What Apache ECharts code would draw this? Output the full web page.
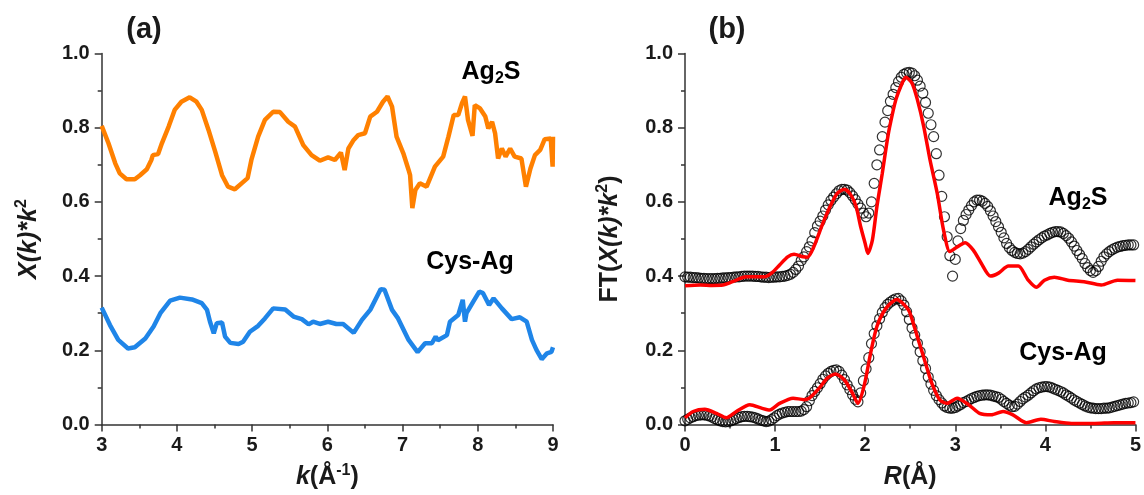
<!DOCTYPE html>
<html><head><meta charset="utf-8">
<script src="https://cdn.jsdelivr.net/npm/echarts@6/dist/echarts.min.js"></script>
<style>html,body{margin:0;padding:0;background:#fff}#c{width:1144px;height:495px}</style>
</head><body><div id="c"></div>
<script>
// ---------- Panel (a): chi(k)*k^2 ----------
const kAg2S = [3.00,3.09,3.18,3.24,3.33,3.44,3.51,3.60,3.66,3.68,3.75,3.80,3.89,3.97,4.06,4.17,4.26,4.33,4.42,4.51,4.60,4.68,4.77,4.86,4.94,4.99,5.08,5.17,5.28,5.37,5.48,5.57,5.68,5.79,5.90,6.01,6.10,6.18,6.23,6.28,6.35,6.41,6.50,6.57,6.66,6.74,6.80,6.86,6.92,7.01,7.08,7.10,7.13,7.17,7.23,7.32,7.43,7.54,7.61,7.68,7.74,7.79,7.83,7.87,7.93,7.96,8.03,8.10,8.14,8.19,8.23,8.27,8.32,8.37,8.43,8.49,8.58,8.64,8.70,8.76,8.83,8.89,8.97,8.995,9.00];
const chiAg2S = [0.805,0.758,0.704,0.677,0.661,0.661,0.672,0.688,0.713,0.726,0.729,0.758,0.803,0.848,0.870,0.882,0.870,0.848,0.794,0.735,0.672,0.641,0.634,0.650,0.664,0.713,0.776,0.821,0.843,0.842,0.816,0.803,0.753,0.726,0.711,0.720,0.713,0.733,0.686,0.744,0.767,0.780,0.785,0.830,0.843,0.870,0.884,0.857,0.776,0.731,0.686,0.672,0.583,0.632,0.650,0.641,0.695,0.722,0.776,0.834,0.834,0.866,0.884,0.821,0.778,0.861,0.852,0.830,0.798,0.816,0.785,0.717,0.744,0.722,0.744,0.722,0.717,0.641,0.690,0.726,0.740,0.769,0.771,0.695,0.776];
const kCys = [3.00,3.11,3.22,3.35,3.44,3.58,3.69,3.78,3.91,4.04,4.20,4.33,4.40,4.44,4.49,4.53,4.60,4.64,4.71,4.82,4.88,4.97,5.08,5.17,5.28,5.44,5.55,5.66,5.75,5.81,5.90,6.01,6.12,6.21,6.35,6.46,6.57,6.66,6.71,6.76,6.86,6.94,7.08,7.20,7.30,7.39,7.44,7.47,7.59,7.63,7.74,7.80,7.83,7.85,7.94,8.02,8.07,8.15,8.21,8.32,8.45,8.56,8.65,8.72,8.78,8.85,8.92,8.98,9.00];
const chiCys = [0.315,0.268,0.228,0.205,0.208,0.232,0.264,0.300,0.334,0.342,0.337,0.327,0.309,0.277,0.246,0.273,0.275,0.237,0.220,0.217,0.223,0.250,0.266,0.286,0.313,0.310,0.291,0.284,0.270,0.277,0.271,0.277,0.271,0.271,0.247,0.282,0.309,0.345,0.365,0.363,0.309,0.286,0.228,0.195,0.219,0.219,0.237,0.227,0.241,0.277,0.295,0.336,0.277,0.300,0.331,0.358,0.354,0.322,0.340,0.313,0.284,0.289,0.277,0.228,0.201,0.176,0.192,0.196,0.208];

// ---------- Panel (b): FT magnitude ----------
const R_STEP = 0.03; // sampling step of the experimental FT (circles)
const ftAg2S = [0.398,0.397,0.397,0.396,0.396,0.395,0.394,0.394,0.393,0.393,0.393,0.393,0.394,0.394,0.395,0.395,0.396,0.396,0.397,0.398,0.398,0.399,0.400,0.400,0.400,0.400,0.399,0.399,0.398,0.397,0.397,0.396,0.397,0.397,0.398,0.398,0.399,0.400,0.402,0.405,0.410,0.418,0.427,0.442,0.452,0.466,0.479,0.495,0.517,0.535,0.548,0.562,0.578,0.592,0.604,0.613,0.622,0.630,0.634,0.634,0.632,0.625,0.616,0.606,0.594,0.583,0.570,0.560,0.570,0.600,0.650,0.700,0.740,0.776,0.815,0.846,0.871,0.890,0.908,0.924,0.936,0.944,0.948,0.949,0.947,0.940,0.928,0.912,0.893,0.868,0.839,0.808,0.776,0.730,0.672,0.615,0.560,0.506,0.455,0.400,0.445,0.495,0.528,0.550,0.566,0.578,0.590,0.600,0.605,0.605,0.602,0.596,0.588,0.576,0.562,0.547,0.533,0.518,0.503,0.488,0.477,0.469,0.464,0.461,0.460,0.462,0.466,0.472,0.479,0.486,0.492,0.498,0.503,0.508,0.511,0.515,0.518,0.520,0.520,0.519,0.515,0.509,0.502,0.492,0.481,0.469,0.458,0.447,0.434,0.423,0.415,0.410,0.415,0.426,0.440,0.452,0.460,0.466,0.471,0.475,0.478,0.480,0.482,0.483,0.484,0.484,0.484];
const ftCys = [0.010,0.014,0.018,0.021,0.024,0.025,0.026,0.026,0.025,0.023,0.020,0.016,0.013,0.010,0.008,0.007,0.008,0.010,0.013,0.016,0.019,0.021,0.022,0.022,0.021,0.020,0.018,0.015,0.012,0.010,0.008,0.009,0.013,0.018,0.024,0.028,0.031,0.033,0.035,0.035,0.035,0.035,0.035,0.036,0.040,0.048,0.064,0.078,0.089,0.099,0.110,0.122,0.131,0.138,0.143,0.146,0.147,0.143,0.133,0.121,0.107,0.094,0.080,0.068,0.061,0.085,0.118,0.150,0.180,0.218,0.245,0.266,0.285,0.302,0.315,0.324,0.330,0.335,0.339,0.340,0.333,0.322,0.304,0.283,0.260,0.241,0.219,0.196,0.172,0.151,0.128,0.109,0.092,0.078,0.067,0.058,0.050,0.046,0.044,0.044,0.046,0.050,0.054,0.059,0.062,0.066,0.070,0.073,0.076,0.078,0.079,0.080,0.080,0.079,0.077,0.075,0.073,0.068,0.062,0.057,0.052,0.048,0.049,0.055,0.062,0.069,0.074,0.079,0.085,0.091,0.096,0.099,0.101,0.102,0.102,0.101,0.098,0.095,0.092,0.089,0.085,0.080,0.076,0.071,0.066,0.062,0.058,0.054,0.050,0.047,0.045,0.044,0.043,0.043,0.043,0.044,0.044,0.045,0.047,0.049,0.051,0.053,0.055,0.057,0.058,0.059,0.061];

const rFitAg2S = [0,0.17,0.30,0.42,0.53,0.68,0.88,0.96,1.05,1.14,1.21,1.31,1.36,1.43,1.53,1.62,1.69,1.77,1.84,1.90,1.95,2.00,2.03,2.08,2.13,2.19,2.24,2.27,2.34,2.41,2.45,2.52,2.58,2.65,2.72,2.80,2.87,2.94,3.00,3.11,3.20,3.29,3.39,3.48,3.59,3.70,3.81,3.90,3.99,4.10,4.25,4.43,4.62,4.80,5.00];
const fitAg2S = [0.374,0.376,0.375,0.376,0.385,0.398,0.398,0.408,0.430,0.452,0.459,0.452,0.451,0.479,0.542,0.592,0.623,0.634,0.619,0.587,0.533,0.488,0.461,0.497,0.587,0.677,0.758,0.800,0.875,0.920,0.936,0.920,0.875,0.803,0.713,0.623,0.524,0.466,0.475,0.490,0.470,0.434,0.400,0.408,0.427,0.427,0.389,0.370,0.389,0.397,0.389,0.385,0.376,0.389,0.388];
const rFitCys = [0,0.09,0.22,0.35,0.46,0.57,0.72,0.85,0.94,1.05,1.20,1.32,1.38,1.49,1.58,1.67,1.77,1.86,1.92,1.99,2.06,2.13,2.23,2.35,2.48,2.55,2.59,2.67,2.74,2.83,2.91,3.02,3.15,3.27,3.40,3.53,3.64,3.79,3.95,4.10,4.29,4.55,4.76,5.00];
const fitCys = [0.018,0.035,0.041,0.030,0.018,0.035,0.053,0.044,0.039,0.057,0.071,0.067,0.071,0.098,0.125,0.136,0.120,0.084,0.057,0.106,0.192,0.264,0.313,0.337,0.309,0.260,0.228,0.165,0.111,0.066,0.057,0.071,0.053,0.030,0.026,0.035,0.026,0.005,0.014,0.008,0.003,0.003,0.005,0.005];

const pairs = (xs, ys) => ys.map((v, i) => [xs[i], v]);
const gridPairs = (ys) => ys.map((v, i) => [+(i * R_STEP).toFixed(3), v]);

const FONT = 'Arial, "Liberation Sans", sans-serif';
const TXT = '#1a1a1a';
const rich = {
  n: { fontSize: 25, fontWeight: 'bold', fontFamily: FONT, color: TXT, lineHeight: 30 },
  i: { fontSize: 25, fontWeight: 'bold', fontStyle: 'italic', fontFamily: FONT, color: TXT, lineHeight: 30 },
  sup: { fontSize: 16, fontWeight: 'bold', fontFamily: FONT, color: TXT, lineHeight: 16, verticalAlign: 'top' },
  sub: { fontSize: 16, fontWeight: 'bold', fontFamily: FONT, color: TXT, lineHeight: 16, verticalAlign: 'bottom' }
};
function xAx(idx, min, max, name) {
  return {
    gridIndex: idx, type: 'value', min: min, max: max, interval: 1,
    name: name, nameLocation: 'middle', nameGap: 38,
    nameTextStyle: { rich: rich },
    axisLine: { onZero: false, lineStyle: { color: '#333', width: 1.5 } },
    axisTick: { inside: false, length: 7, lineStyle: { color: '#333', width: 1.5 } },
    minorTick: { show: true, splitNumber: 2, length: 4, lineStyle: { color: '#333', width: 1.5 } },
    splitLine: { show: false },
    axisLabel: { color: TXT, fontSize: 20, fontWeight: 'bold', fontFamily: FONT, margin: 11 }
  };
}
function yAx(idx, name, gap) {
  return {
    gridIndex: idx, type: 'value', min: 0, max: 1, interval: 0.2,
    name: name, nameLocation: 'middle', nameGap: gap, nameRotate: 90,
    nameTextStyle: { rich: rich },
    axisLine: { show: true, onZero: false, lineStyle: { color: '#333', width: 1.5 } },
    axisTick: { show: true, inside: false, length: 7, lineStyle: { color: '#333', width: 1.5 } },
    minorTick: { show: true, splitNumber: 2, length: 4, lineStyle: { color: '#333', width: 1.5 } },
    splitLine: { show: false },
    axisLabel: { color: TXT, fontSize: 20, fontWeight: 'bold', fontFamily: FONT, margin: 12,
      formatter: v => v.toFixed(1) }
  };
}
function label(x, y, str) {
  return { type: 'text', x: x, y: y, style: { text: str, rich: rich, align: 'center', verticalAlign: 'middle' } };
}

const chart = echarts.init(document.getElementById('c'), null, { renderer: 'canvas' });
chart.setOption({
  backgroundColor: '#fff',
  animation: false,
  grid: [
    { left: 101.7, top: 53.5, width: 451.3, height: 371 },
    { left: 685, top: 53.5, width: 453, height: 371 }
  ],
  xAxis: [
    xAx(0, 3, 9, '{i|k}{n|(Å}{sup|-1}{n|)}'),
    xAx(1, 0, 5, '{i|R}{n|(Å)}')
  ],
  yAxis: [
    yAx(0, '{i|X(k)*k}{sup|2}', 58),
    yAx(1, '{n|FT(}{i|X(k)*k}{sup|2}{n|)}', 60)
  ],
  series: [
    { type: 'line', xAxisIndex: 0, yAxisIndex: 0, data: pairs(kAg2S, chiAg2S), showSymbol: false,
      lineStyle: { color: '#ff8000', width: 4.5 }, z: 3 },
    { type: 'line', xAxisIndex: 0, yAxisIndex: 0, data: pairs(kCys, chiCys), showSymbol: false,
      lineStyle: { color: '#1f85e8', width: 4.5 }, z: 3 },
    { type: 'scatter', xAxisIndex: 1, yAxisIndex: 1, data: gridPairs(ftAg2S), symbol: 'circle', symbolSize: 10,
      itemStyle: { color: 'rgba(0,0,0,0)', borderColor: '#000', borderWidth: 1.2 }, z: 2 },
    { type: 'scatter', xAxisIndex: 1, yAxisIndex: 1, data: gridPairs(ftCys), symbol: 'circle', symbolSize: 10,
      itemStyle: { color: 'rgba(0,0,0,0)', borderColor: '#000', borderWidth: 1.2 }, z: 2 },
    { type: 'line', xAxisIndex: 1, yAxisIndex: 1, data: pairs(rFitAg2S, fitAg2S), showSymbol: false, smooth: 0.25,
      lineStyle: { color: '#ff0000', width: 3.5 }, z: 4 },
    { type: 'line', xAxisIndex: 1, yAxisIndex: 1, data: pairs(rFitCys, fitCys), showSymbol: false, smooth: 0.25,
      lineStyle: { color: '#ff0000', width: 3.5 }, z: 4 }
  ],
  graphic: [
    { type: 'text', x: 144, y: 30, style: { text: '(a)', font: 'bold 29px ' + FONT, fill: TXT, align: 'center', verticalAlign: 'middle' } },
    { type: 'text', x: 727, y: 30, style: { text: '(b)', font: 'bold 29px ' + FONT, fill: TXT, align: 'center', verticalAlign: 'middle' } },
    label(491, 72, '{n|Ag}{sub|2}{n|S}'),
    label(470, 262, '{n|Cys-Ag}'),
    label(1078, 198, '{n|Ag}{sub|2}{n|S}'),
    label(1063, 353, '{n|Cys-Ag}')
  ]
});
</script>
</body></html>
